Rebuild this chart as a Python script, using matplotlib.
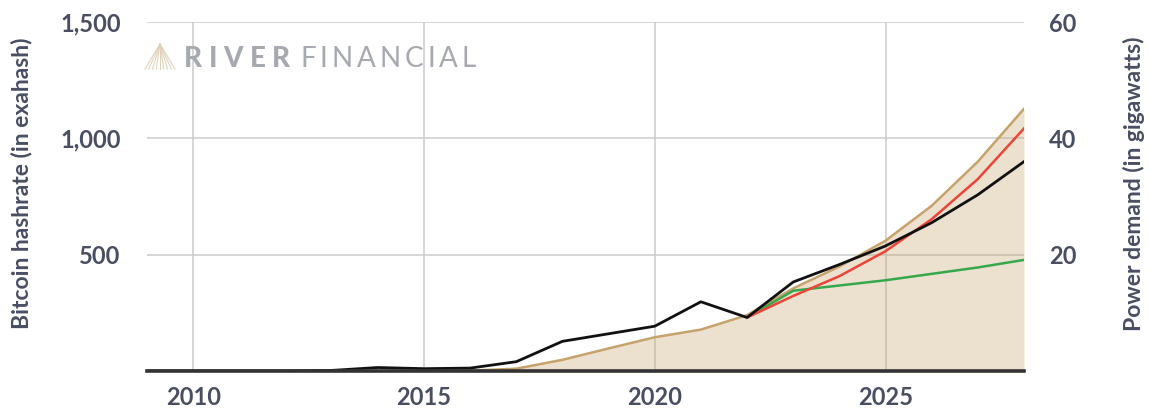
import matplotlib
matplotlib.use("Agg")
import matplotlib.pyplot as plt
import numpy as np

# Data
years = np.arange(2009, 2029)
hashrate_eh = [0, 0, 0, 0, 0.1, 0.3, 0.5, 1.5, 10, 48, 97, 145, 178, 240,
               355, 449, 560, 710, 900, 1127]
power_gw = [0, 0, 0, 0, 0.1, 0.6, 0.4, 0.5, 1.6, 5.1, 6.4, 7.7, 11.9, 9.2,
            15.3, 18.3, 21.5, 25.5, 30.3, 36.0]
fcst_years = np.arange(2022, 2029)
power_high_gw = [9.2, 12.9, 16.3, 20.6, 26.1, 33.0, 41.7]
power_low_gw = [9.2, 13.8, 14.7, 15.6, 16.7, 17.8, 19.1]

left_ticks = [500, 1000, 1500]
left_labels = ["500", "1,000", "1,500"]
right_ticks = [20, 40, 60]
x_ticks = [2010, 2015, 2020, 2025]

TXT = "#4a4e63"
TAN = "#c6a26c"
plt.rcParams["font.family"] = ["Lato", "DejaVu Sans"]

W, H = 1149, 409
fig = plt.figure(figsize=(W / 100, H / 100), dpi=100)
ax = fig.add_axes([147 / W, 1 - 371 / H, (1024 - 147) / W, (371 - 22) / H])
ax2 = ax.twinx()

# hashrate area
ax.fill_between(years, hashrate_eh, 0, color=TAN, alpha=0.33, lw=0, zorder=2)
ax.plot(years, hashrate_eh, color=TAN, lw=1.8, zorder=3)

# power demand lines
ax2.plot(fcst_years, power_low_gw, color="#36a84c", lw=1.8, zorder=3)
ax2.plot(fcst_years, power_high_gw, color="#ec4436", lw=1.8, zorder=4)
ax2.plot(years, power_gw, color="#111111", lw=2.0, zorder=5)

ax.set_xlim(2009, 2028)
ax.set_ylim(0, 1500)
ax2.set_ylim(0, 60)
ax.set_xticks(x_ticks)
ax.set_yticks(left_ticks)
ax.set_yticklabels(left_labels)
ax2.set_yticks(right_ticks)

ax.grid(True, color="#cccccc", lw=1.1, zorder=0)
ax.set_axisbelow(True)
for a in (ax, ax2):
    for s in a.spines.values():
        s.set_visible(False)
ax2.spines["bottom"].set_visible(True)
ax2.spines["bottom"].set_color("#333333")
ax2.spines["bottom"].set_linewidth(2.6)
ax2.spines["bottom"].set_zorder(6)

ax.tick_params(axis="both", length=0, colors=TXT, labelsize=17)
ax.tick_params(axis="y", pad=19)
ax.tick_params(axis="x", pad=11)
ax2.tick_params(axis="y", length=0, colors=TXT, labelsize=17, pad=18)
for lab in ax.get_xticklabels() + ax.get_yticklabels() + ax2.get_yticklabels():
    lab.set_fontweight("bold")

fig.text(22 / W, 1 - 183 / H, "Bitcoin hashrate (in exahash)", rotation=90,
         ha="center", va="center", color=TXT, fontsize=16.5, fontweight="bold")
fig.text(1134 / W, 1 - 184 / H, "Power demand (in gigawatts)", rotation=90,
         ha="center", va="center", color=TXT, fontsize=16.5, fontweight="bold")

# watermark logo: fan of thin lines
apex = (160 / W, 1 - 44 / H)
for bx in np.linspace(145, 175, 9):
    fig.add_artist(plt.Line2D([apex[0], bx / W], [apex[1], 1 - 69 / H],
                              color="#e0d3bd", lw=0.8))

# watermark text, tracked letter by letter
fig.canvas.draw()
rend = fig.canvas.get_renderer()
x = 184
for word, weight, track in (("RIVER", "black", 6.5), ("FINANCIAL", "normal", 4.0)):
    for ch in word:
        t = fig.text(x / W, 1 - 67 / H, ch, color="#a7a9b1", fontsize=20,
                     fontweight=weight, ha="left", va="baseline")
        bb = t.get_window_extent(rend)
        x = bb.x1 + track
    x += 4

fig.savefig("out.png", dpi=100)
